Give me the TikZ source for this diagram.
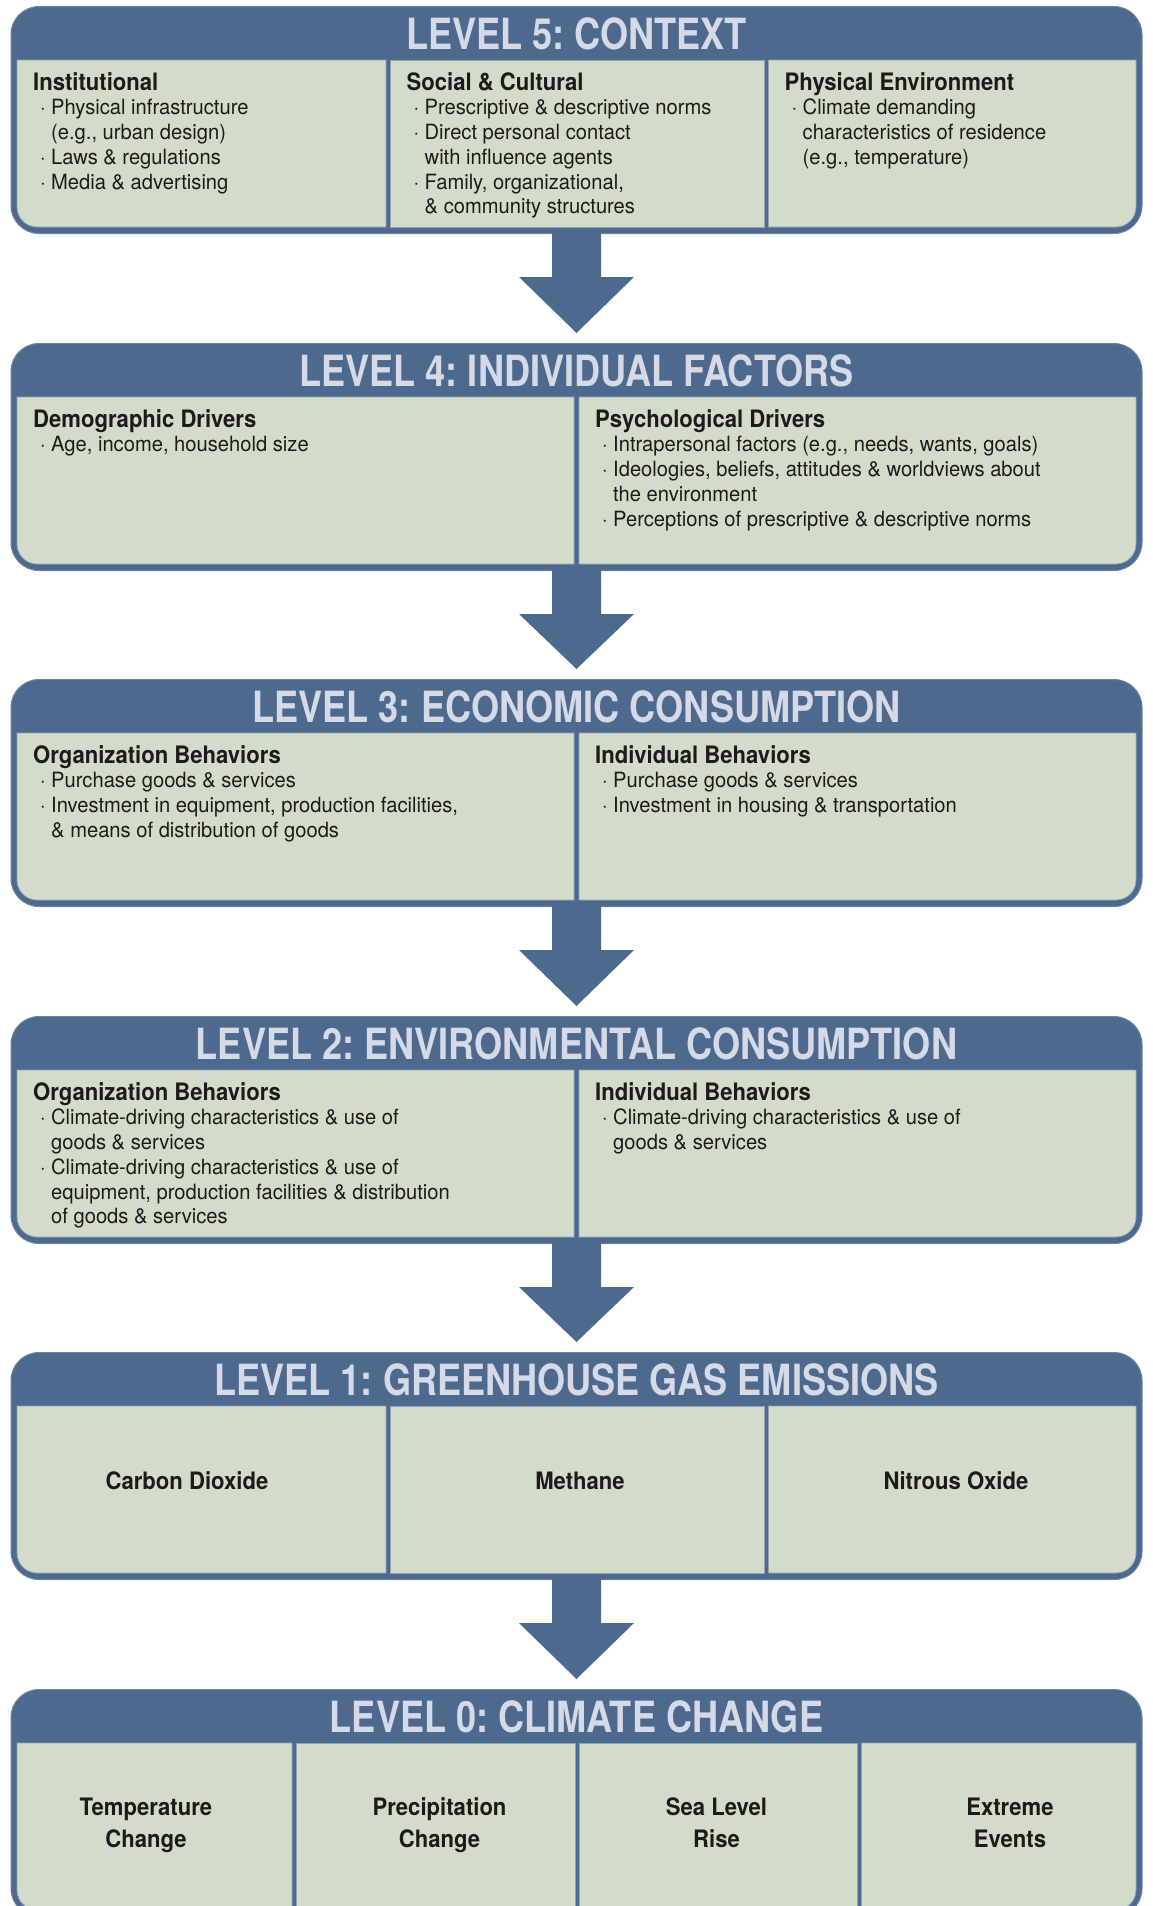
\documentclass[tikz,border=0pt]{standalone}
\usepackage{fontspec}
\setmainfont{TeX Gyre Heros}
\newfontfamily\bodyfam{TeX Gyre Heros}[FakeStretch=0.96]
\newfontfamily\headfam{TeX Gyre Heros}[FakeStretch=0.92]
\newfontfamily\titlefam{TeX Gyre Heros}[FakeStretch=0.84]
\usetikzlibrary{calc}
\frenchspacing

\definecolor{frameblue}{HTML}{4D6A8E}
\definecolor{frameedge}{HTML}{6C84A2}
\definecolor{cellgreen}{HTML}{D3DCCB}
\definecolor{celledge}{HTML}{93A3B6}
\definecolor{titletext}{HTML}{D6D9E6}
\definecolor{ink}{HTML}{1E1A1B}

\newcommand\txtfont{\bodyfam\fontsize{21}{24.7}\selectfont}
\newcommand\hdfont{\headfam\bfseries\fontsize{24}{24.7}\selectfont}
\newcommand\bul{\hspace*{7pt}\makebox[11pt][l]{·}}
\newcommand\cnt{\hspace*{18pt}}
\newcommand\hd[1]{\rule{0pt}{20pt}{\hdfont #1}}

% content cells: #1 left, #2 right, #3 panel top
\newcommand\cellL[3]{\path[cell] (#2,#3+54) -- (#2,#3+221) -- (#1+20,#3+221)
  .. controls (#1+9,#3+221) and (#1,#3+212) .. (#1,#3+201) -- (#1,#3+54) -- cycle;}
\newcommand\cellR[3]{\path[cell] (#1,#3+54) -- (#1,#3+221) -- (#2-20,#3+221)
  .. controls (#2-9,#3+221) and (#2,#3+212) .. (#2,#3+201) -- (#2,#3+54) -- cycle;}
\newcommand\cellN[3]{\path[cell] (#1,#3+54) rectangle (#2,#3+221);}

% block arrow from the bottom of one panel to the top of the next
\newcommand\blockarrow[2]{\fill[frameblue]
  ($(#1.south)+(-24.5,-2)$) -- ($(#1.south)+(-24.5,43)$) -- ($(#1.south)+(-57.5,43)$)
  -- ($(#2.north)+(0,-10)$)
  -- ($(#1.south)+(57.5,43)$) -- ($(#1.south)+(24.5,43)$) -- ($(#1.south)+(24.5,-2)$) -- cycle;}

\tikzset{
  panel/.style={fill=frameblue, draw=frameedge, line width=1pt, rounded corners=28pt,
    minimum width=1131pt, minimum height=227pt, inner sep=0pt, anchor=north},
  cell/.style={fill=cellgreen, draw=celledge, line width=0.8pt},
  ttl/.style={text=titletext, font=\titlefam\bfseries\fontsize{43}{48}\selectfont,
    anchor=base, inner sep=0pt},
  txt/.style={text=ink, font=\txtfont, align=left, anchor=north west, inner sep=0pt},
  gas/.style={text=ink, font=\hdfont, anchor=base, inner sep=0pt},
  effect/.style={text=ink, font=\headfam\bfseries\fontsize{24}{32}\selectfont,
    align=center, anchor=north, inner sep=0pt}
}

\begin{document}
\begin{tikzpicture}[x=1pt,y=-1pt]
\useasboundingbox (0,0) rectangle (1152,1906);

% ---------- panel frames ----------
\node[panel] (L5) at (576.5,6) {};
\node[panel] (L4) at (576.5,343) {};
\node[panel] (L3) at (576.5,679) {};
\node[panel] (L2) at (576.5,1016) {};
\node[panel] (L1) at (576.5,1352) {};
\node[panel] (L0) at (576.5,1689) {};

% ---------- arrows ----------
\blockarrow{L5}{L4}
\blockarrow{L4}{L3}
\blockarrow{L3}{L2}
\blockarrow{L2}{L1}
\blockarrow{L1}{L0}

% ---------- level 5 ----------
\node[ttl] (t5) at (576.5,49) {LEVEL 5: CONTEXT};
\cellL{17}{386}{6}
\cellN{390.5}{764}{6}
\cellR{768.5}{1136}{6}
\node[txt] (c5a) at (33,70) {\hd{Institutional}\\
  \bul Physical infrastructure\\
  \cnt (e.g., urban design)\\
  \bul Laws \& regulations\\
  \bul Media \& advertising};
\node[txt] (c5b) at (406.5,70) {\hd{Social \& Cultural}\\
  \bul Prescriptive \& descriptive norms\\
  \bul Direct personal contact\\
  \cnt with influence agents\\
  \bul Family, organizational,\\
  \cnt \& community structures};
\node[txt] (c5c) at (784.5,70) {\hd{Physical Environment}\\
  \bul Climate demanding\\
  \cnt characteristics of residence\\
  \cnt (e.g., temperature)};

% ---------- level 4 ----------
\node[ttl] (t4) at (576.5,386) {LEVEL 4: INDIVIDUAL FACTORS};
\cellL{17}{574}{343}
\cellR{579}{1136}{343}
\node[txt] (c4a) at (33,407) {\hd{Demographic Drivers}\\
  \bul Age, income, household size};
\node[txt] (c4b) at (595,407) {\hd{Psychological Drivers}\\
  \bul Intrapersonal factors (e.g., needs, wants, goals)\\
  \bul Ideologies, beliefs, attitudes \& worldviews about\\
  \cnt the environment\\
  \bul Perceptions of prescriptive \& descriptive norms};

% ---------- level 3 ----------
\node[ttl] (t3) at (576.5,722) {LEVEL 3: ECONOMIC CONSUMPTION};
\cellL{17}{574}{679}
\cellR{579}{1136}{679}
\node[txt] (c3a) at (33,743) {\hd{Organization Behaviors}\\
  \bul Purchase goods \& services\\
  \bul Investment in equipment, production facilities,\\
  \cnt \& means of distribution of goods};
\node[txt] (c3b) at (595,743) {\hd{Individual Behaviors}\\
  \bul Purchase goods \& services\\
  \bul Investment in housing \& transportation};

% ---------- level 2 ----------
\node[ttl] (t2) at (576.5,1059) {LEVEL 2: ENVIRONMENTAL CONSUMPTION};
\cellL{17}{574}{1016}
\cellR{579}{1136}{1016}
\node[txt] (c2a) at (33,1080) {\hd{Organization Behaviors}\\
  \bul Climate-driving characteristics \& use of\\
  \cnt goods \& services\\
  \bul Climate-driving characteristics \& use of\\
  \cnt equipment, production facilities \& distribution\\
  \cnt of goods \& services};
\node[txt] (c2b) at (595,1080) {\hd{Individual Behaviors}\\
  \bul Climate-driving characteristics \& use of\\
  \cnt goods \& services};

% ---------- level 1 ----------
\node[ttl] (t1) at (576.5,1395) {LEVEL 1: GREENHOUSE GAS EMISSIONS};
\cellL{17}{386}{1352}
\cellN{390.5}{764}{1352}
\cellR{768.5}{1136}{1352}
\node[gas] (g1) at (187,1489.6) {Carbon Dioxide};
\node[gas] (g2) at (580,1489.6) {Methane};
\node[gas] (g3) at (956,1489.6) {Nitrous Oxide};

% ---------- level 0 ----------
\node[ttl] (t0) at (576.5,1732) {LEVEL 0: CLIMATE CHANGE};
\cellL{17}{292}{1689}
\cellN{296.5}{575}{1689}
\cellN{579}{857}{1689}
\cellR{861.5}{1136}{1689}
\node[effect] (e1) at (146,1795) {\rule{0pt}{20pt}Temperature\\Change};
\node[effect] (e2) at (439.5,1795) {\rule{0pt}{20pt}Precipitation\\Change};
\node[effect] (e3) at (716.5,1795) {\rule{0pt}{20pt}Sea Level\\Rise};
\node[effect] (e4) at (1010,1795) {\rule{0pt}{20pt}Extreme\\Events};
\end{tikzpicture}
\end{document}
